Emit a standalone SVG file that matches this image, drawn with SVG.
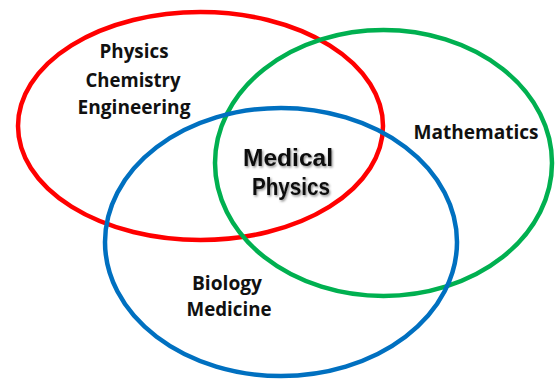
<svg xmlns="http://www.w3.org/2000/svg" width="556" height="379" viewBox="0 0 556 379">
  <style>
    .ring { fill: none; stroke-width: 4.5; }
    .lbl { font-family: "Open Sans", "Liberation Sans", Arial, sans-serif; font-weight: bold; font-size: 19.5px; fill: #111; text-anchor: middle; }
    .big { font-family: "Liberation Sans", Arial, sans-serif; font-size: 24.5px; }
  </style>
  <defs>
    <filter id="shadow" x="-20%" y="-20%" width="140%" height="160%">
      <feDropShadow dx="1.2" dy="1.5" stdDeviation="1" flood-color="#000" flood-opacity="0.45"/>
    </filter>
  </defs>
  <rect width="556" height="379" fill="#fff"/>
  <g id="sets">
    <g id="red-set">
      <ellipse class="ring" cx="200.5" cy="126" rx="182.5" ry="114" stroke="#FF0000"/>
    </g>
    <g id="green-set">
      <ellipse class="ring" cx="383.5" cy="163" rx="168.5" ry="133" stroke="#00B050"/>
    </g>
    <g id="blue-set">
      <ellipse class="ring" cx="281" cy="242" rx="176" ry="134" stroke="#0070C0"/>
    </g>
  </g>
  <g id="label-physical">
    <text class="lbl" x="134" y="58" textLength="69" lengthAdjust="spacingAndGlyphs">Physics</text>
    <text class="lbl" x="133" y="86.5" textLength="95" lengthAdjust="spacingAndGlyphs">Chemistry</text>
    <text class="lbl" x="134" y="113.5" textLength="113" lengthAdjust="spacingAndGlyphs">Engineering</text>
  </g>
  <g id="label-math">
    <text class="lbl" x="476" y="138.5" textLength="125" lengthAdjust="spacingAndGlyphs">Mathematics</text>
  </g>
  <g id="label-bio">
    <text class="lbl" x="227" y="290" textLength="70" lengthAdjust="spacingAndGlyphs">Biology</text>
    <text class="lbl" x="229" y="316" textLength="85" lengthAdjust="spacingAndGlyphs">Medicine</text>
  </g>
  <g id="label-center" filter="url(#shadow)">
    <text class="lbl big" x="288" y="166" textLength="90" lengthAdjust="spacingAndGlyphs">Medical</text>
    <text class="lbl big" x="291" y="195" textLength="78" lengthAdjust="spacingAndGlyphs">Physics</text>
  </g>
</svg>
